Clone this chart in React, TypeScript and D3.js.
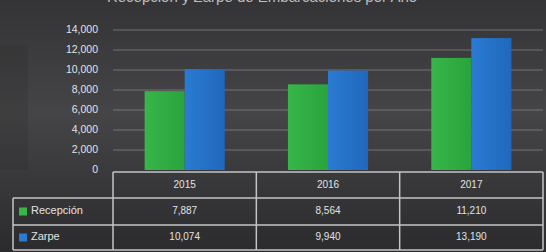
import React from "react";
import * as d3 from "d3";

const W = 546;
const H = 252;

const years = ["2015", "2016", "2017"];
const seriesNames = ["Recepción", "Zarpe"];
const recepcion = [7887, 8564, 11210];
const zarpe = [10074, 9940, 13190];
const yTicks = [0, 2000, 4000, 6000, 8000, 10000, 12000, 14000];
const title = "Recepción y Zarpe de Embarcaciones por Año";

const COLORS = ["#37b649", "#2a7bd2"];
const COLORS_DARK = ["#2aa33c", "#1f68bd"];

const PLOT = { left: 113, right: 543, top: 30, bottom: 170 };
const ROWS = [172, 198, 225, 250];
const TABLE_LEFT = 13;

const App = () => {
  const values = [recepcion, zarpe];
  const fmt = d3.format(",");

  const xScale = d3.scaleBand().domain(years).range([PLOT.left, PLOT.right]);
  const yScale = d3.scaleLinear().domain([0, 14000]).range([PLOT.bottom, PLOT.top]);
  const inner = d3
    .scaleBand()
    .domain(seriesNames)
    .range([0, xScale.bandwidth()])
    .paddingOuter(0.79)
    .paddingInner(0);

  const textColor = "#e2e2e2";
  const lineColor = "#c4c4c4";
  const font = "'Liberation Sans', Arial, sans-serif";

  return (
    <svg width={W} height={H} style={{ position: "absolute", left: 0, top: 0 }} fontFamily={font}>
      <defs>
        <linearGradient id="bg" x1="0" y1="0" x2="0" y2="1">
          <stop offset="0" stopColor="#343436" />
          <stop offset="0.45" stopColor="#454547" />
          <stop offset="1" stopColor="#2b2b2d" />
        </linearGradient>
        {COLORS.map((c, i) => (
          <linearGradient key={i} id={`bar${i}`} x1="0" y1="0" x2="1" y2="0">
            <stop offset="0" stopColor={c} />
            <stop offset="1" stopColor={COLORS_DARK[i]} />
          </linearGradient>
        ))}
      </defs>
      <rect x={0} y={0} width={W} height={H} fill="url(#bg)" />
      <rect x={0} y={45} width={28} height={125} fill="#2a2a2c" opacity={0.25} />

      {/* title, cropped at top like the reference */}
      <text x={262} y={2} textAnchor="middle" fontSize={15} fill="#bdbdbd">
        {title}
      </text>

      {/* gridlines */}
      {yTicks.filter(t => t > 0).map(t => (
        <line
          key={t}
          x1={PLOT.left}
          x2={PLOT.right}
          y1={yScale(t)}
          y2={yScale(t)}
          stroke="#8a8a8c"
          strokeWidth={1}
          opacity={0.7}
        />
      ))}

      {/* y labels */}
      {yTicks.map(t => (
        <text
          key={t}
          x={98}
          y={yScale(t)}
          textAnchor="end"
          dominantBaseline="middle"
          fontSize={10.5}
          fill={textColor}
        >
          {fmt(t)}
        </text>
      ))}

      {/* bars */}
      {years.map((yr, i) =>
        seriesNames.map((s, j) => {
          const v = values[j][i];
          return (
            <rect
              key={yr + s}
              x={(xScale(yr) ?? 0) + (inner(s) ?? 0)}
              y={yScale(v)}
              width={inner.bandwidth()}
              height={yScale(0) - yScale(v)}
              fill={`url(#bar${j})`}
            />
          );
        })
      )}

      {/* data table */}
      <g stroke={lineColor} strokeWidth={1.5} fill="none">
        <line x1={PLOT.left} x2={PLOT.right} y1={ROWS[0]} y2={ROWS[0]} />
        <line x1={TABLE_LEFT} x2={PLOT.right} y1={ROWS[1]} y2={ROWS[1]} />
        <line x1={TABLE_LEFT} x2={PLOT.right} y1={ROWS[2]} y2={ROWS[2]} />
        <line x1={TABLE_LEFT} x2={PLOT.right} y1={ROWS[3]} y2={ROWS[3]} />
        <line x1={TABLE_LEFT} x2={TABLE_LEFT} y1={ROWS[1]} y2={ROWS[3]} />
        {years.map(yr => (
          <line key={yr} x1={xScale(yr)} x2={xScale(yr)} y1={ROWS[0]} y2={ROWS[3]} />
        ))}
        <line x1={PLOT.right} x2={PLOT.right} y1={ROWS[0]} y2={ROWS[3]} />
      </g>

      {years.map(yr => (
        <text
          key={yr}
          x={(xScale(yr) ?? 0) + xScale.bandwidth() / 2}
          y={(ROWS[0] + ROWS[1]) / 2}
          textAnchor="middle"
          dominantBaseline="middle"
          fontSize={10}
          fill={textColor}
        >
          {yr}
        </text>
      ))}

      {seriesNames.map((s, j) => {
        const cy = (ROWS[j + 1] + ROWS[j + 2]) / 2;
        return (
          <g key={s}>
            <rect x={19} y={cy - 4} width={8} height={8} fill={COLORS[j]} />
            <text x={31} y={cy} dominantBaseline="middle" fontSize={11} fill={textColor}>
              {s}
            </text>
            {years.map((yr, i) => (
              <text
                key={yr}
                x={(xScale(yr) ?? 0) + xScale.bandwidth() / 2}
                y={cy}
                textAnchor="middle"
                dominantBaseline="middle"
                fontSize={10}
                fill={textColor}
              >
                {fmt(values[j][i])}
              </text>
            ))}
          </g>
        );
      })}
    </svg>
  );
};

export default App;
